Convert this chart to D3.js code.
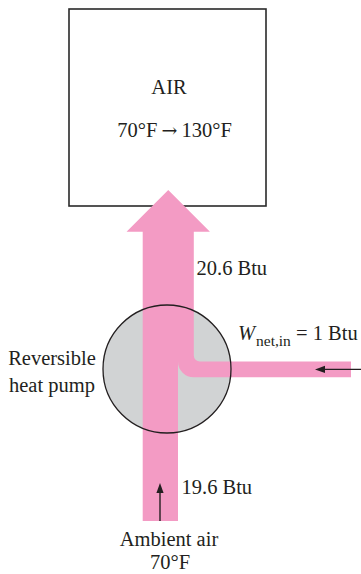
<!doctype html>
<html lang="en">
<head>
<meta charset="utf-8">
<title>Reversible heat pump</title>
<script src="https://cdn.jsdelivr.net/npm/d3@7"></script>
<style>
  body { margin: 0; background: #fff; }
  svg text {
    font-family: "Liberation Serif", "Times New Roman", serif;
    font-size: 20.5px;
    fill: #231f20;
  }
</style>
</head>
<body>
<div id="chart"></div>
<script>
// energy flows in Btu: heat from ambient air, net work in, heat to the room air
var flowNames = ["Q_L", "W_net,in", "Q_H"];
var flowBtu = [19.6, 1, 20.6];
var airTemps = [70, 130];      // room air, °F, before -> after
var ambientTemps = [70];       // outdoor air, °F
var pumpLabel = ["Reversible", "heat pump"];

var width = 361, height = 574;
var pink = "#f39bc4", grey = "#d1d3d4", ink = "#231f20";

var svg = d3.select("#chart").append("svg")
    .attr("width", width)
    .attr("height", height);

// band width per flow; the delivered stream carries the other two
var bandW = d3.scaleLinear().domain([flowBtu[1], flowBtu[0]]).range([15.8, 35.3]);
var wL = bandW(flowBtu[0]), wW = bandW(flowBtu[1]), wH = wL + wW;

// layout
var box = {x: 69, y: 9, w: 197, h: 197};
var pump = {cx: 167, cy: 369, r: 64};
var x0 = 142.7;                 // left edge of the stream
var tipY = 190, headY = 231.7, headHalf = 41.7;
var bandTop = 361.5, bandEnd = 351, streamBottom = 521;
var hc = x0 + wH / 2;

// room air box
svg.append("rect")
    .attr("x", box.x).attr("y", box.y)
    .attr("width", box.w).attr("height", box.h)
    .attr("fill", "none")
    .attr("stroke", "#2a2a2a")
    .attr("stroke-width", 1.6);

// heat pump disc
svg.append("circle")
    .attr("cx", pump.cx).attr("cy", pump.cy).attr("r", pump.r)
    .attr("fill", grey);

// energy stream
var rc = 6;
var p = d3.path();
p.moveTo(x0, streamBottom);
p.lineTo(x0, headY);
p.lineTo(hc - headHalf, headY);
p.lineTo(hc, tipY);
p.lineTo(hc + headHalf, headY);
p.lineTo(x0 + wH, headY);
p.lineTo(x0 + wH, bandTop - rc);
p.arc(x0 + wH + rc, bandTop - rc, rc, Math.PI, Math.PI / 2, true);
p.lineTo(bandEnd, bandTop);
p.lineTo(bandEnd, bandTop + wW);
p.lineTo(x0 + wL + wW, bandTop + wW);
p.arc(x0 + wL + wW, bandTop, wW, Math.PI / 2, Math.PI, false);
p.lineTo(x0 + wL, streamBottom);
p.closePath();

svg.append("path")
    .attr("d", p.toString())
    .attr("fill", pink);

// disc outline drawn over the stream
svg.append("circle")
    .attr("cx", pump.cx).attr("cy", pump.cy).attr("r", pump.r)
    .attr("fill", "none")
    .attr("stroke", ink)
    .attr("stroke-width", 1.3);

// small direction arrows
function arrow(x1, y1, x2, y2) {
    var a = Math.atan2(y2 - y1, x2 - x1), len = 10, half = 3.6;
    svg.append("line")
        .attr("x1", x1).attr("y1", y1)
        .attr("x2", x2 - Math.cos(a) * len * 0.6).attr("y2", y2 - Math.sin(a) * len * 0.6)
        .attr("stroke", ink).attr("stroke-width", 1.4);
    var bx = x2 - Math.cos(a) * len, by = y2 - Math.sin(a) * len;
    svg.append("path")
        .attr("d", "M" + x2 + "," + y2 +
            "L" + (bx - Math.sin(a) * half) + "," + (by + Math.cos(a) * half) +
            "L" + (bx + Math.sin(a) * half) + "," + (by - Math.cos(a) * half) + "Z")
        .attr("fill", ink);
}
arrow(160, streamBottom, 160, 483);
arrow(width, bandTop + wW / 2, 315, bandTop + wW / 2);

// labels
svg.append("text").attr("x", 169).attr("y", 94)
    .attr("text-anchor", "middle").text("AIR");
var t = svg.append("text").attr("x", 174.5).attr("y", 137)
    .attr("text-anchor", "middle");
t.append("tspan").text(airTemps[0] + "°F\u2009");
t.append("tspan").style("font-family", "'DejaVu Serif', serif").style("font-size", "19px")
    .attr("dy", -0.5).text("\u2192");
t.append("tspan").attr("dy", 0.5).text("\u2009" + airTemps[1] + "°F");

svg.append("text").attr("x", 196.5).attr("y", 275)
    .text(flowBtu[2] + " Btu");

svg.append("text").attr("x", 238).attr("y", 340)
    .attr("font-style", "italic").text("W");
svg.append("text").attr("x", 256).attr("y", 346)
    .style("font-size", "15.5px").text("net,in");
svg.append("text").attr("x", 296).attr("y", 340)
    .text("= " + flowBtu[1] + " Btu");

svg.selectAll("text.pump")
    .data(pumpLabel)
    .enter().append("text")
    .attr("class", "pump")
    .attr("x", 52)
    .attr("y", function(d, i) { return 365 + i * 27; })
    .attr("text-anchor", "middle")
    .text(function(d) { return d; });

svg.append("text").attr("x", 181.5).attr("y", 494)
    .text(flowBtu[0] + " Btu");

svg.append("text").attr("x", 169).attr("y", 546)
    .attr("text-anchor", "middle").text("Ambient air");
svg.append("text").attr("x", 170).attr("y", 569)
    .attr("text-anchor", "middle").text(ambientTemps[0] + "°F");
</script>
</body>
</html>
